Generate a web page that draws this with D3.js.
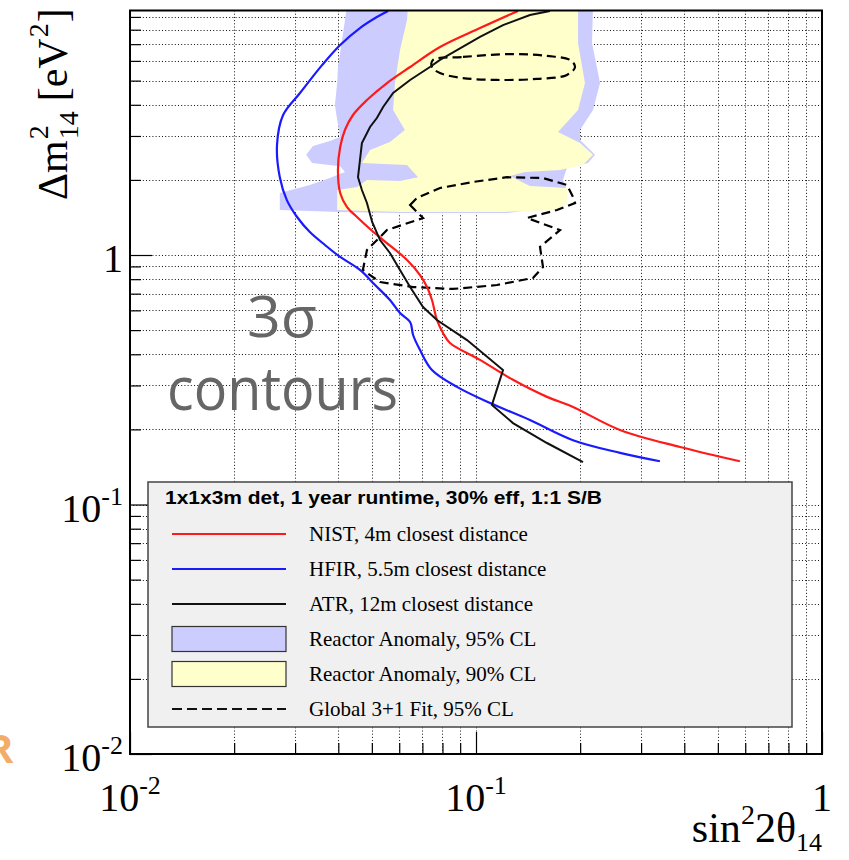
<!DOCTYPE html>
<html>
<head>
<meta charset="utf-8">
<script src="https://cdn.jsdelivr.net/npm/d3@7"></script>
<style>
  body { margin: 0; background: #fff; }
  svg { display: block; }
</style>
</head>
<body>
<div id="chart"></div>
<script>
// --- data: sin^2(2theta14) on x, dm^2_14 [eV^2] on y ---

// NIST, 4m closest distance
const nistX = [0.1322,0.1027,0.0787,0.0645,0.0553,0.0484,0.0441,0.0418,0.0405,0.0399,0.0405,0.0424,0.0453,0.0494,0.0539,0.0632,0.0689,0.0722,0.0746,0.0771,0.0803,0.0841,0.1027,0.1279,0.1604,0.1907,0.2608,0.389,0.579]
const nistY = [9.51,8.12,6.82,5.67,4.89,4.18,3.64,3.17,2.71,2.19,1.772,1.557,1.42,1.271,1.148,0.955,0.831,0.744,0.660,0.549,0.487,0.444,0.380,0.316,0.270,0.246,0.199,0.170,0.149]

// HFIR, 5.5m closest distance
const hfirX = [0.0557,0.0517,0.0462,0.0405,0.0359,0.0310,0.0277,0.0266,0.0271,0.0284,0.0304,0.0331,0.0366,0.0405,0.0462,0.0511,0.0564,0.0603,0.0645,0.0658,0.0689,0.0746,0.0881,0.1098,0.1432,0.1907,0.2608,0.340]
const hfirY = [9.51,8.99,8.12,6.95,5.77,4.46,3.64,2.76,2.05,1.66,1.42,1.236,1.097,0.982,0.871,0.758,0.660,0.585,0.539,0.478,0.416,0.346,0.296,0.255,0.218,0.181,0.161,0.149]

// ATR, 12m closest distance
const atrX = [0.1636,0.1432,0.1197,0.1027,0.0881,0.0787,0.0736,0.0645,0.0576,0.0539,0.0517,0.0494,0.0468,0.0462,0.0456,0.0468,0.0484,0.0501,0.0528,0.0564,0.0603,0.0645,0.0703,0.0771,0.0942,0.1197,0.1112,0.1279,0.1604,0.2038]
const atrY = [9.51,9.16,8.35,7.48,6.63,6.05,5.67,5.03,4.46,3.92,3.54,3.26,2.81,2.40,2.05,1.822,1.616,1.356,1.148,1.019,0.871,0.744,0.619,0.549,0.456,0.346,0.2505,0.212,0.1764,0.148]

// Reactor anomaly 95% CL region outline
const ra95X = [0.0424,0.2179,0.2164,0.2283,0.2179,0.1998,0.1998,0.2208,0.2107,0.1832,0.1784,0.1832,0.1832,0.1714,0.1432,0.1229,0.0603,0.0405,0.0271,0.0271,0.0331,0.0378,0.0418,0.0405,0.0336,0.0323,0.0338,0.0378,0.0405,0.0397,0.0391,0.0397,0.0399,0.0413]
const ra95Y = [10,10,7.07,4.89,3.81,3.17,2.89,2.52,2.34,2.23,2.0,1.822,1.616,1.543,1.515,1.473,1.473,1.487,1.515,1.772,1.908,2.035,2.15,2.27,2.34,2.52,2.735,2.863,2.97,3.48,3.99,4.89,5.67,7.76]

// Reactor anomaly 90% CL region outline
const ra90X = [0.0636,0.1972,0.1972,0.2065,0.1972,0.1726,0.1998,0.2179,0.2038,0.1749,0.1385,0.1254,0.1432,0.1832,0.1832,0.1714,0.1173,0.0603,0.0397,0.0397,0.0453,0.0484,0.0603,0.0680,0.0632,0.0468,0.0494,0.0564,0.0623,0.0576,0.0583,0.0603,0.0632]
const ra90Y = [10,10,7.07,4.89,3.81,3.11,2.81,2.52,2.295,2.19,2.15,2.073,1.89,1.856,1.616,1.515,1.487,1.487,1.515,1.822,1.873,2.0,1.98,2.05,2.295,2.34,2.635,2.837,3.17,3.81,4.89,6.63,8.75]

// Global 3+1 fit, 95% CL (two islands)
const globUpX = [0.0751,0.0917,0.1279,0.1604,0.1870,0.1933,0.1832,0.1501,0.1150,0.0917,0.0787,0.0746]
const globUpY = [6.05,6.22,6.39,6.28,6.05,5.67,5.27,5.08,5.03,5.12,5.36,5.67]
const globLoX = [0.0645,0.0675,0.0787,0.0980,0.1229,0.1562,0.1832,0.1907,0.1933,0.1714,0.1404,0.1749,0.1531,0.1562,0.1461,0.1150,0.0858,0.0658,0.0528,0.0471,0.0484,0.0553,0.0703]
const globLoY = [1.586,1.692,1.856,1.962,2.05,2.035,1.908,1.708,1.616,1.515,1.407,1.259,1.077,0.895,0.809,0.758,0.731,0.744,0.779,0.871,1.047,1.259,1.407]

// tick labels (base, exponent)
const xTickVals = [0.01, 0.1, 1]
const xTickLabels = [["10","-2"],["10","-1"],["1",""]]
const yTickVals = [0.01, 0.1, 1]
const yTickLabels = [["10","-2"],["10","-1"],["1",""]]

const legendTitle = "1x1x3m det, 1 year runtime, 30% eff, 1:1 S/B"
const legendLabels = ["NIST, 4m closest distance", "HFIR, 5.5m closest distance", "ATR, 12m closest distance",
    "Reactor Anomaly, 95% CL", "Reactor Anomaly, 90% CL", "Global 3+1 Fit,  95% CL"]

// --- layout ---
const W = 849, H = 860
const plot = {left: 130, right: 822, top: 10.5, bottom: 754}
const serif = "'Liberation Serif', 'DejaVu Serif', serif"
const sans = "'Liberation Sans', Arial, sans-serif"

const svg = d3.select("#chart").append("svg")
    .attr("width", W).attr("height", H)

const x = d3.scaleLog().domain([0.01, 1]).range([plot.left, plot.right])
const y = d3.scaleLog().domain([0.01, 9.55]).range([plot.bottom, plot.top])

const pts = (xs, ys) => xs.map((v, i) => [v, ys[i]])

svg.append("defs").append("clipPath").attr("id", "clip")
    .append("rect")
    .attr("x", plot.left).attr("y", plot.top)
    .attr("width", plot.right - plot.left).attr("height", plot.bottom - plot.top)

// dotted grid at every decade subdivision
const grid = svg.append("g").attr("stroke", "#111").attr("stroke-width", 1).attr("stroke-dasharray", "1,2.2")
grid.selectAll(".gx")
    .data(x.ticks().filter(v => v > 0.01 && v < 1))
    .enter().append("line")
    .attr("x1", d => Math.round(x(d)) + 0.5).attr("x2", d => Math.round(x(d)) + 0.5)
    .attr("y1", plot.top).attr("y2", plot.bottom)
grid.selectAll(".gy")
    .data(y.ticks().filter(v => v > 0.01))
    .enter().append("line")
    .attr("y1", d => Math.round(y(d)) + 0.5).attr("y2", d => Math.round(y(d)) + 0.5)
    .attr("x1", plot.left).attr("x2", plot.right)

const area = svg.append("g").attr("clip-path", "url(#clip)")

const closed = d3.line().x(d => x(d[0])).y(d => y(d[1])).curve(d3.curveLinearClosed)
const smooth = d3.line().x(d => x(d[0])).y(d => y(d[1])).curve(d3.curveCatmullRom.alpha(0.5))
const straight = d3.line().x(d => x(d[0])).y(d => y(d[1]))

// regions
area.append("path").attr("d", closed(pts(ra95X, ra95Y))).attr("fill", "#ccccff")
area.append("path").attr("d", closed(pts(ra90X, ra90Y))).attr("fill", "#ffffcc")

// global fit contours
area.append("path")
    .attr("d", d3.line().x(d => x(d[0])).y(d => y(d[1])).curve(d3.curveCatmullRomClosed)(pts(globUpX, globUpY)))
    .attr("fill", "none").attr("stroke", "#000").attr("stroke-width", 2.2).attr("stroke-dasharray", "9,5")
area.append("path")
    .attr("d", closed(pts(globLoX, globLoY)))
    .attr("fill", "none").attr("stroke", "#000").attr("stroke-width", 2.2).attr("stroke-dasharray", "9,5")

// sensitivity curves
area.append("path").attr("d", smooth(pts(hfirX, hfirY)))
    .attr("fill", "none").attr("stroke", "#1a1aff").attr("stroke-width", 2.2)
area.append("path").attr("d", smooth(pts(nistX, nistY)))
    .attr("fill", "none").attr("stroke", "#ff1a1a").attr("stroke-width", 2.2)
area.append("path").attr("d", straight(pts(atrX, atrY)))
    .attr("fill", "none").attr("stroke", "#111").attr("stroke-width", 2)

// ticks (inside the frame)
const xMajor = xTickVals, xMinor = x.ticks().filter(v => !xMajor.includes(v))
const yMajor = yTickVals, yMinor = y.ticks().filter(v => !yMajor.includes(v))

function tickAxis(axis, tr) {
    const g = svg.append("g").attr("transform", tr).call(axis)
    g.select(".domain").remove()
    g.selectAll("line").attr("stroke", "#000").attr("stroke-width", 1.2)
    return g
}
tickAxis(d3.axisBottom(x).tickValues(xMinor).tickSize(-11).tickSizeOuter(0).tickFormat(""), `translate(0,${plot.bottom})`)
tickAxis(d3.axisBottom(x).tickValues(xMajor).tickSize(-22).tickSizeOuter(0).tickFormat(""), `translate(0,${plot.bottom})`)
tickAxis(d3.axisLeft(y).tickValues(yMinor).tickSize(-11).tickSizeOuter(0).tickFormat(""), `translate(${plot.left},0)`)
tickAxis(d3.axisLeft(y).tickValues(yMajor).tickSize(-22).tickSizeOuter(0).tickFormat(""), `translate(${plot.left},0)`)

// frame
svg.append("rect")
    .attr("x", plot.left).attr("y", plot.top)
    .attr("width", plot.right - plot.left).attr("height", plot.bottom - plot.top)
    .attr("fill", "none").attr("stroke", "#000").attr("stroke-width", 2)

// tick labels
function powLabel(sel, base, exp) {
    sel.append("tspan").attr("font-size", 40).text(base)
    if (exp) sel.append("tspan").attr("font-size", 26).attr("dy", -17).text(exp)
}
xTickVals.forEach((v, i) => {
    const t = svg.append("text").attr("x", x(v)).attr("y", 811)
        .attr("text-anchor", "middle").attr("font-family", serif)
    powLabel(t, xTickLabels[i][0], xTickLabels[i][1])
})
yTickVals.forEach((v, i) => {
    const t = svg.append("text").attr("x", 123).attr("y", y(v) + 17)
        .attr("text-anchor", "end").attr("font-family", serif)
    powLabel(t, yTickLabels[i][0], yTickLabels[i][1])
})

// axis titles
const xt = svg.append("text").attr("x", 822).attr("y", 842)
    .attr("text-anchor", "end").attr("font-family", serif).attr("font-size", 42)
xt.append("tspan").text("sin")
xt.append("tspan").attr("font-size", 28).attr("dy", -18).text("2")
xt.append("tspan").attr("dy", 18).text("2θ")
xt.append("tspan").attr("font-size", 26).attr("dy", 9).text("14")

const yt = svg.append("g").attr("transform", "translate(67,200) rotate(-90)")
    .attr("font-family", serif)
let cx = 0
const t1 = yt.append("text").attr("x", cx).attr("font-size", 42).text("Δm")
cx += t1.node().getComputedTextLength() + 1
yt.append("text").attr("x", cx).attr("y", -19).attr("font-size", 28).text("2")
const t3 = yt.append("text").attr("x", cx).attr("y", 11).attr("font-size", 28).text("14")
cx += t3.node().getComputedTextLength() + 10
const t4 = yt.append("text").attr("x", cx).attr("font-size", 42).text("[eV")
cx += t4.node().getComputedTextLength() + 1
const t5 = yt.append("text").attr("x", cx).attr("y", -19).attr("font-size", 28).text("2")
cx += t5.node().getComputedTextLength() + 1
yt.append("text").attr("x", cx).attr("font-size", 42).text("]")

// "3 sigma contours" annotation
svg.append("text").attr("x", 247).attr("y", 337)
    .attr("font-family", "'Open Sans', sans-serif").attr("font-size", 56).attr("fill", "#666")
    .attr("textLength", 70).attr("lengthAdjust", "spacingAndGlyphs").text("3σ")
svg.append("text").attr("x", 167).attr("y", 410)
    .attr("font-family", "'Open Sans', sans-serif").attr("font-size", 60).attr("fill", "#666")
    .attr("textLength", 231).attr("lengthAdjust", "spacingAndGlyphs").text("contours")

// legend
const lg = svg.append("g")
lg.append("rect").attr("x", 148).attr("y", 482).attr("width", 644).attr("height", 245)
    .attr("fill", "#f0f0f0").attr("stroke", "#444").attr("stroke-width", 1.5)
lg.append("text").attr("x", 165).attr("y", 504)
    .attr("font-family", sans).attr("font-weight", "bold").attr("font-size", 19)
    .attr("textLength", 437).attr("lengthAdjust", "spacingAndGlyphs")
    .text(legendTitle)

const rowY = d3.range(legendLabels.length).map(i => 534 + i * 35)
const swatch = [
    g => g.append("line").attr("stroke", "#ff1a1a").attr("stroke-width", 2.2),
    g => g.append("line").attr("stroke", "#1a1aff").attr("stroke-width", 2.2),
    g => g.append("line").attr("stroke", "#111").attr("stroke-width", 2.2),
    g => g.append("rect").attr("fill", "#ccccff"),
    g => g.append("rect").attr("fill", "#ffffcc"),
    g => g.append("line").attr("stroke", "#111").attr("stroke-width", 2.2).attr("stroke-dasharray", "10,5")
]
legendLabels.forEach((lab, i) => {
    const row = lg.append("g")
    const s = swatch[i](row)
    if (s.node().tagName === "line") {
        s.attr("x1", 172).attr("x2", 286).attr("y1", rowY[i]).attr("y2", rowY[i])
    } else {
        s.attr("x", 172).attr("y", rowY[i] - 12.5).attr("width", 114).attr("height", 25)
            .attr("stroke", "#333").attr("stroke-width", 1.2)
    }
    row.append("text").attr("x", 309).attr("y", rowY[i] + 7)
        .attr("font-family", serif).attr("font-size", 21).text(lab)
})

// cropped orange logo fragment at the left edge
svg.append("text").attr("x", -13).attr("y", 763)
    .attr("font-family", "'Open Sans', sans-serif").attr("font-weight", "bold")
    .attr("font-size", 40).attr("fill", "#f0a050").attr("opacity", 0.85).text("R")
</script>
</body>
</html>
